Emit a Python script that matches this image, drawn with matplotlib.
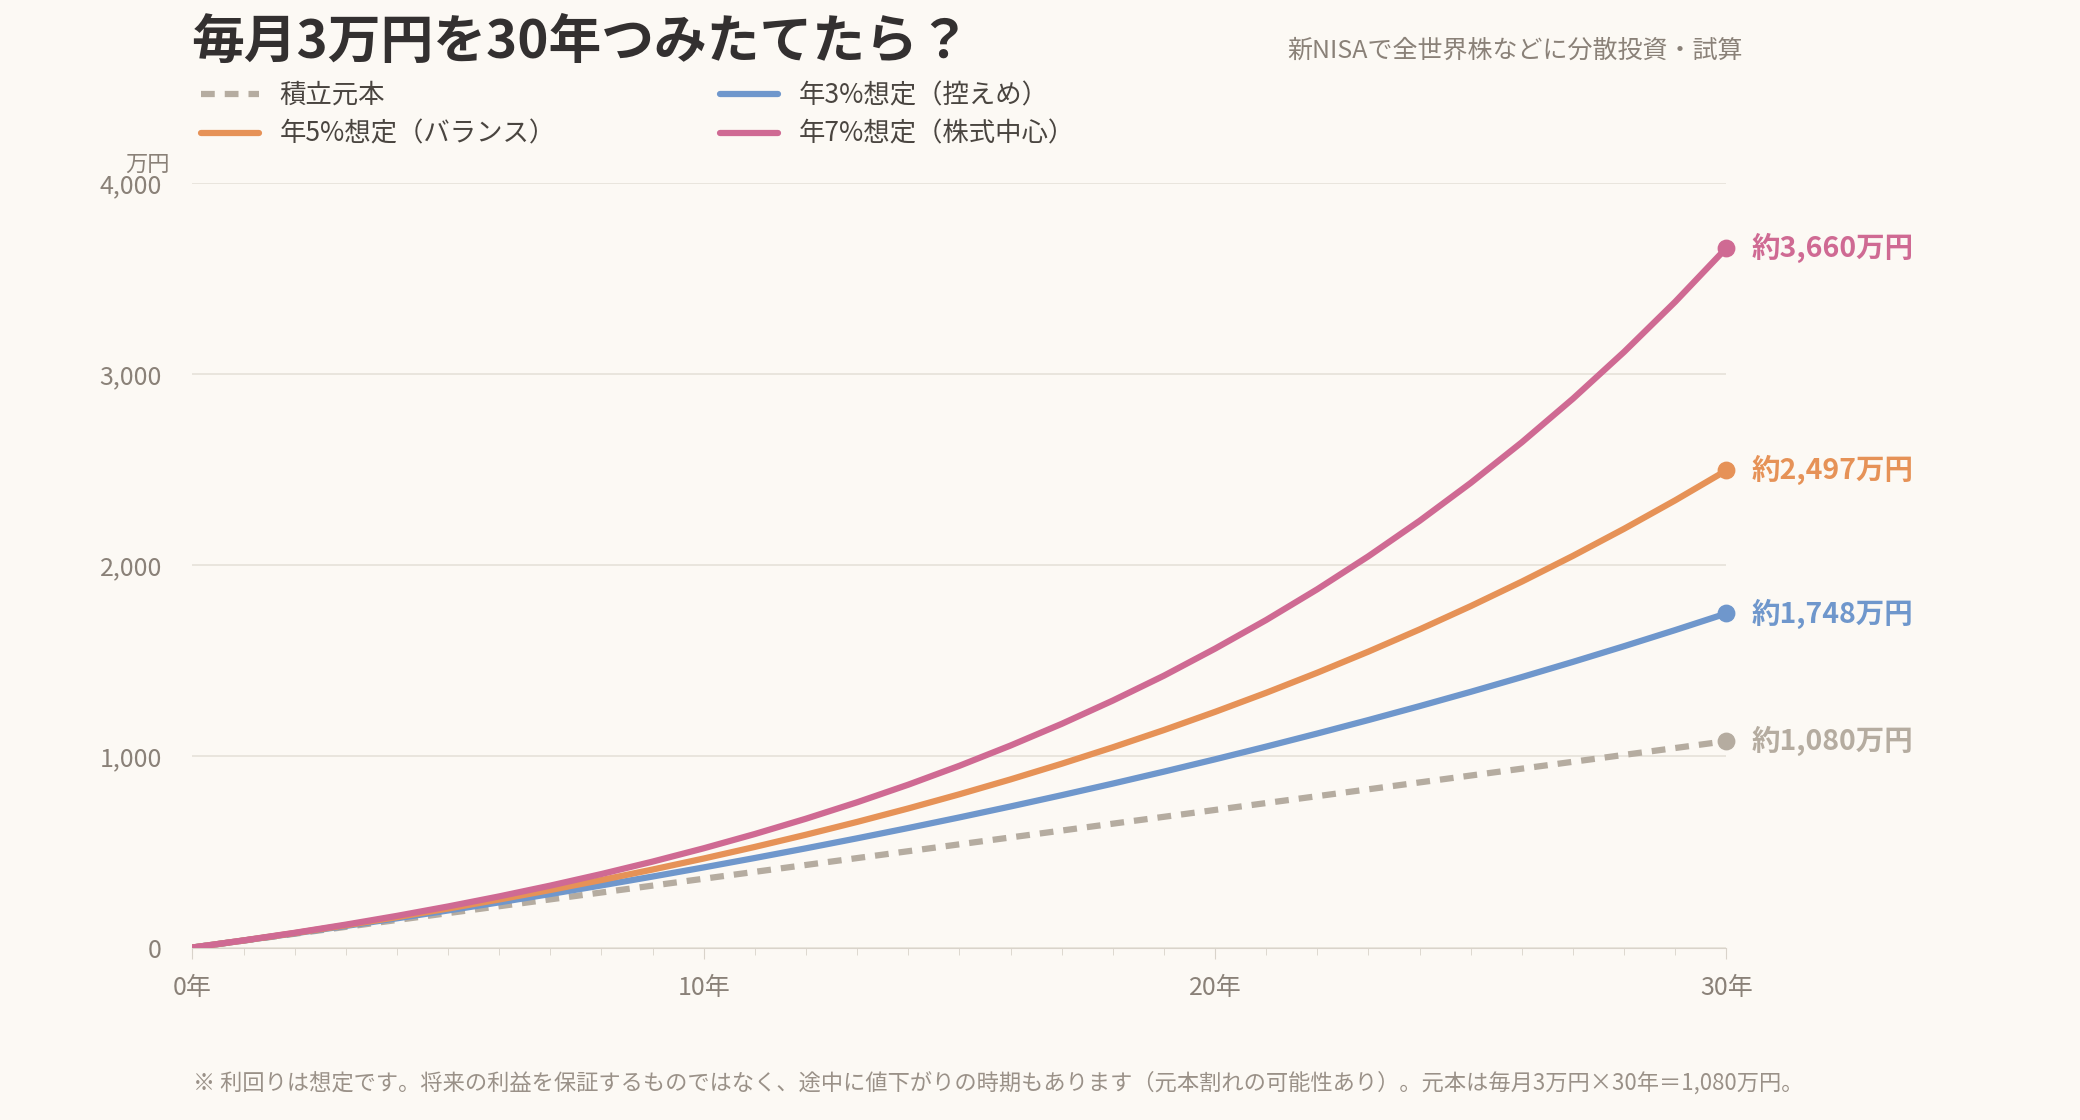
import matplotlib
matplotlib.use("Agg")
import matplotlib.pyplot as plt
from matplotlib.ticker import MultipleLocator, FuncFormatter

plt.rcParams['font.family'] = ['Noto Sans CJK JP', 'DejaVu Sans']

years = list(range(0, 31))
principal = [36 * y for y in years]
r3 = [0, 36.5, 74.1, 112.9, 152.8, 193.9, 236.3, 280.0, 325.0, 371.4, 419.2, 468.5, 519.2, 571.5, 625.4,
      680.9, 738.1, 797.1, 857.8, 920.4, 984.9, 1051.4, 1119.9, 1190.4, 1263.1, 1338.0, 1415.2, 1494.8,
      1576.8, 1661.2, 1748.2]
r5 = [0, 36.8, 75.6, 116.3, 159.0, 204.0, 251.3, 301.0, 353.2, 408.1, 465.8, 526.5, 590.3, 657.3, 727.8,
      801.9, 879.7, 961.6, 1047.6, 1138.0, 1233.1, 1333.0, 1438.1, 1548.5, 1664.5, 1786.5, 1914.8, 2049.6,
      2191.3, 2340.2, 2496.8]
r7 = [0, 37.2, 77.0, 119.8, 165.6, 214.8, 267.5, 324.0, 384.6, 449.6, 519.3, 594.0, 674.1, 760.0, 852.1,
      950.9, 1057.0, 1170.3, 1292.2, 1422.4, 1563.9, 1713.9, 1874.9, 2047.6, 2232.7, 2431.2, 2643.9, 2872.2,
      3116.9, 3379.3, 3660.7]
names = ["積立元本", "年3%想定（控えめ）", "年5%想定（バランス）", "年7%想定（株式中心）"]
end_labels = ["約1,080万円", "約1,748万円", "約2,497万円", "約3,660万円"]
colors = ["#b5aca0", "#6f97cc", "#e69257", "#cf6a93"]

bg = "#fcf9f4"
fig = plt.figure(figsize=(20.8, 11.2), dpi=100, facecolor=bg)
ax = fig.add_axes([0.0925, 0.154, 0.7375, 0.6825], facecolor=bg)

series = [principal, r3, r5, r7]
lines = []
for i, (s, c, n) in enumerate(zip(series, colors, names)):
    ls = (0, (2.2, 1.6)) if i == 0 else '-'
    ln, = ax.plot(years, s, color=c, lw=4.5, ls=ls, label=n, solid_capstyle='round', zorder=3)
    lines.append(ln)
    ax.scatter([years[-1]], [s[-1]], s=140, color=c, zorder=4, clip_on=False)
    ax.text(years[-1] + 0.5, s[-1], end_labels[i], color=c, fontsize=20.5, fontweight='bold',
            va='center', ha='left')

ax.set_xlim(0, 30)
ax.set_ylim(0, 4000)
ax.xaxis.set_major_locator(MultipleLocator(10))
ax.xaxis.set_minor_locator(MultipleLocator(1))
ax.xaxis.set_major_formatter(FuncFormatter(lambda v, p: f"{int(v)}年"))
ax.yaxis.set_major_locator(MultipleLocator(1000))
ax.yaxis.set_major_formatter(FuncFormatter(lambda v, p: f"{int(v):,}"))
ax.grid(axis='y', color='#e6e1d9', lw=1.2)
ax.set_axisbelow(True)
for sp in ['top', 'right', 'left']:
    ax.spines[sp].set_visible(False)
ax.spines['bottom'].set_color('#d9d3ca')
ax.tick_params(axis='y', length=0, labelsize=18, labelcolor='#8a8178', pad=22)
ax.tick_params(axis='x', which='major', length=8, color='#d9d3ca', labelsize=18, labelcolor='#8a8178', pad=12)
ax.tick_params(axis='x', which='minor', length=5, color='#d9d3ca')
ax.text(-0.45, 4000 + 40, "万円", fontsize=16, color='#8a8178', ha='right', va='bottom')

fig.text(0.092, 0.962, "毎月3万円を30年つみたてたら？", fontsize=38, fontweight='bold',
         color='#333030', ha='left', va='center')
fig.text(0.838, 0.955, "新NISAで全世界株などに分散投資・試算", fontsize=18, color='#8a8178',
         ha='right', va='center')
fig.legend(handles=[lines[0], lines[2], lines[1], lines[3]],
           labels=[names[0], names[2], names[1], names[3]],
           loc='upper left', bbox_to_anchor=(0.085, 0.948), ncol=2, frameon=False,
           fontsize=19, labelcolor='#4a4540', handlelength=2.2, columnspacing=6.2,
           handletextpad=0.8, labelspacing=0.45)
fig.text(0.093, 0.033, "※ 利回りは想定です。将来の利益を保証するものではなく、途中に値下がりの時期もあります（元本割れの可能性あり）。元本は毎月3万円×30年＝1,080万円。",
         fontsize=16, color='#9a9188', ha='left', va='center')

fig.savefig("out.png", dpi=100, facecolor=bg)
